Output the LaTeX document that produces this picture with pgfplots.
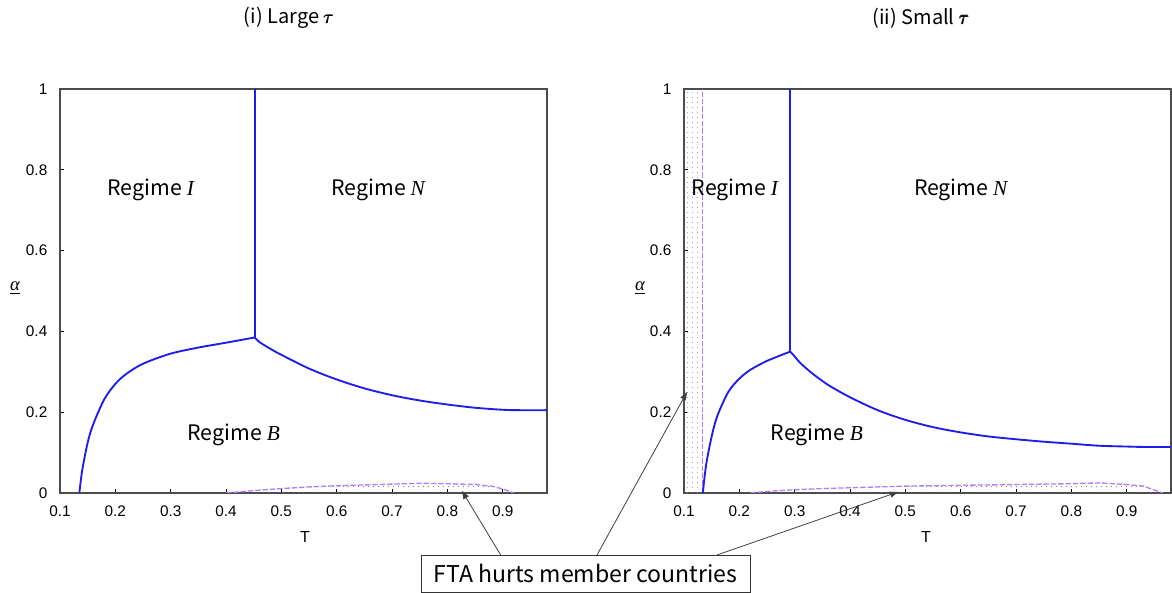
\documentclass[border=0pt]{standalone}
\usepackage{amsmath}
\usepackage{fontspec}
\setmainfont{Liberation Sans}
\newfontfamily\jp{Noto Sans CJK JP}
\newfontfamily\serifit{Liberation Serif}
\usepackage{pgfplots}
\pgfplotsset{compat=1.18}
\usetikzlibrary{patterns.meta,arrows.meta}
\definecolor{curveblue}{RGB}{30,30,235}
\definecolor{dashviolet}{RGB}{180,125,250}
\definecolor{dotcol}{RGB}{110,90,150}
\newcommand{\vi}[1]{{\serifit\itshape #1}}
\begin{document}
\begin{tikzpicture}
\path[use as bounding box] (0pt,0pt) rectangle (879pt,444.75pt);
\pgfplotsset{myax/.style={
  width=365.25pt, height=303pt, scale only axis, anchor=south west,
  xmin=0.1, xmax=0.98, ymin=0, ymax=1,
  xtick={0.1,0.2,0.3,0.4,0.5,0.6,0.7,0.8,0.9},
  ytick={0,0.2,0.4,0.6,0.8,1},
  tick align=inside, xtick pos=bottom, ytick pos=left,
  major tick length=3pt,
  axis line style={black!70, line width=0.8pt},
  tick style={black, line width=0.6pt},
  ticklabel style={font=\fontsize{11.5}{13}\selectfont},
  yticklabel style={xshift=-6pt},
  xticklabel style={yshift=-6pt},
  /pgf/number format/assume math mode=true,
  clip=true,
}}
% ---------- left panel ----------
\begin{axis}[myax, at={(45pt,75pt)}]
\addplot[draw=none, pattern={Dots[distance=4pt, radius=0.4pt]}, pattern color=dotcol] coordinates {
(0.40,0) (0.45,0.006) (0.50,0.011) (0.55,0.015) (0.60,0.018) (0.65,0.020) (0.70,0.022) (0.75,0.024) (0.80,0.023) (0.85,0.021) (0.88,0.017) (0.90,0.010) (0.92,0)} \closedcycle;
\addplot[dashviolet, line width=1pt, dash pattern=on 4pt off 1.5pt] coordinates {
(0.40,0) (0.45,0.006) (0.50,0.011) (0.55,0.015) (0.60,0.018) (0.65,0.020) (0.70,0.022) (0.75,0.024) (0.80,0.023) (0.85,0.021) (0.88,0.017) (0.90,0.010) (0.92,0)};
\addplot[curveblue, line width=1.4pt, smooth, tension=0.5] coordinates {
(0.135,0) (0.14,0.055) (0.15,0.125) (0.16,0.17) (0.18,0.232) (0.20,0.27) (0.22,0.295) (0.25,0.32) (0.30,0.345) (0.35,0.36) (0.40,0.372) (0.452,0.385)};
\addplot[curveblue, line width=1.4pt, smooth, tension=0.5] coordinates {
(0.452,0.385) (0.46,0.374) (0.48,0.357) (0.50,0.342) (0.55,0.308) (0.60,0.281) (0.65,0.259) (0.70,0.242) (0.75,0.229) (0.80,0.219) (0.85,0.211) (0.90,0.206) (0.93,0.205) (0.98,0.205)};
\addplot[curveblue, line width=1.4pt] coordinates {(0.452,0.385) (0.452,1)};
\node[font=\jp\fontsize{16}{19}\selectfont] at (axis cs:0.264,0.75) {Regime \vi{I}};
\node[font=\jp\fontsize{16}{19}\selectfont] at (axis cs:0.675,0.75) {Regime \vi{N}};
\node[font=\jp\fontsize{16}{19}\selectfont] at (axis cs:0.414,0.144) {Regime \vi{B}};
\end{axis}
% ---------- right panel ----------
\begin{axis}[myax, at={(513pt,75pt)}]
\addplot[draw=none, pattern={Dots[distance=4pt, radius=0.4pt]}, pattern color=dashviolet!80!gray] coordinates {
(0.1,0) (0.1,1) (0.133,1) (0.133,0)} \closedcycle;
\addplot[dashviolet, line width=1pt, dash pattern=on 4pt off 1.5pt] coordinates {(0.133,0) (0.133,1)};
\addplot[draw=none, pattern={Dots[distance=4pt, radius=0.4pt]}, pattern color=dotcol] coordinates {
(0.22,0) (0.25,0.004) (0.30,0.008) (0.35,0.011) (0.40,0.013) (0.50,0.017) (0.60,0.019) (0.70,0.021) (0.80,0.023) (0.85,0.025) (0.90,0.021) (0.93,0.017) (0.965,0)} \closedcycle;
\addplot[dashviolet, line width=1pt, dash pattern=on 4pt off 1.5pt] coordinates {
(0.22,0) (0.25,0.004) (0.30,0.008) (0.35,0.011) (0.40,0.013) (0.50,0.017) (0.60,0.019) (0.70,0.021) (0.80,0.023) (0.85,0.025) (0.90,0.021) (0.93,0.017) (0.965,0)};
\addplot[curveblue, line width=1.4pt, smooth, tension=0.5] coordinates {
(0.134,0) (0.14,0.07) (0.15,0.14) (0.16,0.19) (0.18,0.25) (0.20,0.283) (0.22,0.305) (0.25,0.327) (0.292,0.35)};
\addplot[curveblue, line width=1.4pt, smooth, tension=0.5] coordinates {
(0.292,0.35) (0.30,0.338) (0.31,0.322) (0.33,0.298) (0.36,0.268) (0.40,0.237) (0.45,0.205) (0.50,0.181) (0.55,0.163) (0.60,0.150) (0.65,0.140) (0.70,0.133) (0.75,0.127) (0.80,0.122) (0.85,0.117) (0.90,0.115) (0.93,0.114) (0.98,0.114)};
\addplot[curveblue, line width=1.4pt] coordinates {(0.292,0.35) (0.292,1)};
\node[font=\jp\fontsize{16}{19}\selectfont] at (axis cs:0.192,0.75) {Regime \vi{I}};
\node[font=\jp\fontsize{16}{19}\selectfont] at (axis cs:0.60,0.75) {Regime \vi{N}};
\node[font=\jp\fontsize{16}{19}\selectfont] at (axis cs:0.340,0.144) {Regime \vi{B}};
\end{axis}
% ---------- titles and labels ----------
\node[font=\jp\fontsize{15}{18}\selectfont] at (216.75pt,431.25pt) {(i) Large $\pmb{\tau}$};
\node[font=\jp\fontsize{15}{18}\selectfont] at (690.75pt,431.25pt) {(ii) Small $\pmb{\tau}$};
\node[font=\fontsize{14}{16}\selectfont] at (11.25pt,228.75pt) {\underline{\vi{α}}};
\node[font=\fontsize{14}{16}\selectfont] at (480pt,228.75pt) {\underline{\vi{α}}};
\node[font=\fontsize{12}{14}\selectfont] at (228.75pt,42pt) {T};
\node[font=\fontsize{12}{14}\selectfont] at (694.5pt,42pt) {T};
% ---------- annotation ----------
\draw[black!80, line width=0.6pt] (315.75pt,0.75pt) rectangle (562.5pt,28.5pt);
\node[font=\jp\fontsize{17.3}{20}\selectfont] at (439.1pt,14.6pt) {FTA hurts member countries};
\draw[black!75, line width=0.6pt, -{Triangle[length=6pt,width=4.5pt]}] (375.5pt,28.5pt) -- (346.5pt,76.5pt);
\draw[black!75, line width=0.6pt, -{Triangle[length=6pt,width=4.5pt]}] (447.75pt,28.5pt) -- (515.25pt,150.75pt);
\draw[black!75, line width=0.6pt, -{Triangle[length=6pt,width=4.5pt]}] (537.75pt,28.5pt) -- (673.5pt,75.75pt);
\end{tikzpicture}
\end{document}
